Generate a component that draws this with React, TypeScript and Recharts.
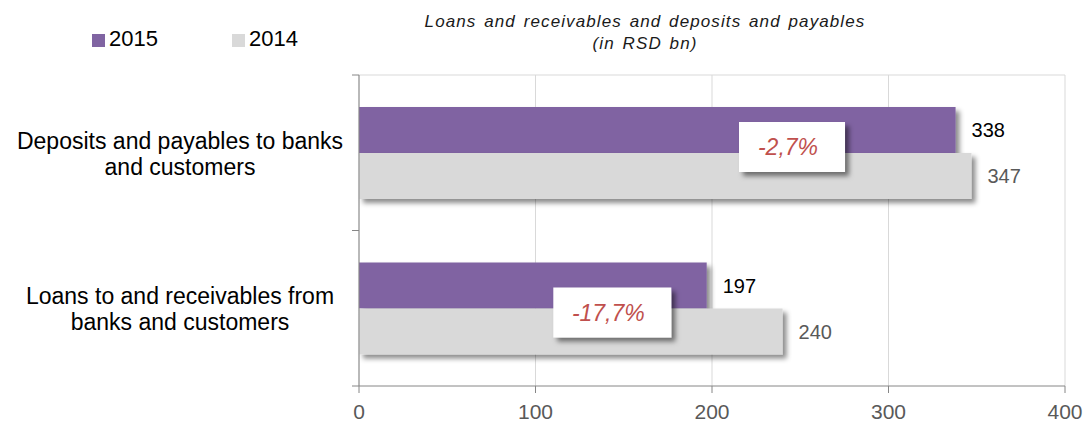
import { BarChart, Bar, XAxis, YAxis, CartesianGrid, LabelList } from "recharts";

const categories = [
  "Deposits and payables to banks and customers",
  "Loans to and receivables from banks and customers",
];
const categoryLines = [
  ["Deposits and payables to banks", "and customers"],
  ["Loans to and receivables from", "banks and customers"],
];
const values2015 = [338, 197];
const values2014 = [347, 240];
const changeLabels = ["-2,7%", "-17,7%"];
const xTicks = [0, 100, 200, 300, 400];
const seriesNames = ["2015", "2014"];

const data = categories.map((name, i) => ({
  name,
  lines: categoryLines[i],
  y2015: values2015[i],
  y2014: values2014[i],
  change: changeLabels[i],
}));

const FONT = '"Liberation Sans", Arial, sans-serif';
const PURPLE = "#8064a2";
const GREY = "#d9d9d9";
const AXIS = "#868686";
const W = 1088;
const H = 425;
const MARGIN = { top: 75, right: 23, bottom: 0, left: 0 };
const Y_AXIS_W = 359;
const X_AXIS_H = 39;
const BAND = (H - MARGIN.top - MARGIN.bottom - X_AXIS_H) / categories.length;
// where the change boxes sit along the 2014 bar, and how far from the bar split
const CALLOUT_X = [0.707, 0.598];
const CALLOUT_DY = [-6, 4];

function CategoryTick(props: any) {
  const { y, payload, index } = props;
  const lines: string[] = data[index]?.lines ?? [payload.value];
  const top = y - BAND / 2;
  const last = index === data.length - 1;
  const ax = MARGIN.left + Y_AXIS_W;
  return (
    <g>
      <line x1={ax - 7} x2={ax} y1={top} y2={top} stroke={AXIS} />
      {last && <line x1={ax - 7} x2={ax} y1={top + BAND} y2={top + BAND} stroke={AXIS} />}
      {lines.map((l, i) => (
        <text
          key={i}
          x={180}
          y={y - 4 + i * 26}
          textAnchor="middle"
          fontFamily={FONT}
          fontSize={23}
          fill="#000"
        >
          {l}
        </text>
      ))}
    </g>
  );
}

function ShadowRect(props: any) {
  const { x, y, width, height, fill } = props;
  return <rect x={x} y={y} width={width} height={height} fill={fill} filter="url(#barShadow)" />;
}

function Callout(props: any) {
  const { x, y, width, value, index } = props;
  const text = String(value);
  const cx = x + width * CALLOUT_X[index];
  const cy = y + CALLOUT_DY[index];
  const bw = text.length * 12 + 46;
  const bh = 50;
  return (
    <g>
      <rect
        x={cx - bw / 2}
        y={cy - bh / 2}
        width={bw}
        height={bh}
        fill="#fff"
        filter="url(#boxShadow)"
      />
      <text
        x={cx - 4}
        y={cy + 8}
        textAnchor="middle"
        fontFamily={FONT}
        fontStyle="italic"
        fontSize={23}
        fill="#c0504d"
      >
        {text}
      </text>
    </g>
  );
}

function LegendBlock() {
  const colors = [PURPLE, GREY];
  return (
    <div
      style={{
        position: "absolute",
        left: 92,
        top: 26,
        display: "flex",
        fontFamily: FONT,
        fontSize: 22,
        lineHeight: "26px",
        color: "#000",
      }}
    >
      {seriesNames.map((s, i) => (
        <div key={s} style={{ display: "flex", alignItems: "center", width: 140 }}>
          <span
            style={{ width: 13, height: 13, background: colors[i], marginRight: 4, marginTop: 2 }}
          />
          <span>{s}</span>
        </div>
      ))}
    </div>
  );
}

export default function App() {
  return (
    <div style={{ position: "relative", width: W, height: H, background: "#fff" }}>
      <style>{"body{margin:0}"}</style>
      <svg width={0} height={0} style={{ position: "absolute" }}>
        <defs>
          <filter id="barShadow" x="-5%" y="-20%" width="115%" height="160%">
            <feDropShadow dx={4} dy={4} stdDeviation={2.5} floodColor="#000" floodOpacity={0.45} />
          </filter>
          <filter id="boxShadow" x="-20%" y="-30%" width="150%" height="170%">
            <feDropShadow dx={4} dy={4} stdDeviation={2.5} floodColor="#000" floodOpacity={0.5} />
          </filter>
        </defs>
      </svg>
      <LegendBlock />
      <div
        style={{
          position: "absolute",
          left: 0,
          width: 1290,
          top: 11,
          textAlign: "center",
          fontFamily: FONT,
          fontStyle: "italic",
          fontSize: 17,
          lineHeight: "22px",
          color: "#1a1a1a",
          letterSpacing: 1.1,
          wordSpacing: 2,
        }}
      >
        Loans and receivables and deposits and payables
        <br />
        (in RSD bn)
      </div>
      <BarChart
        width={W}
        height={H}
        data={data}
        layout="vertical"
        margin={MARGIN}
        barCategoryGap={32}
        barGap={0}
      >
        <CartesianGrid
          stroke={GREY}
          horizontalCoordinatesGenerator={({ offset }: any) => [offset.top]}
        />
        <XAxis
          type="number"
          domain={[0, 400]}
          ticks={xTicks}
          height={X_AXIS_H}
          axisLine={{ stroke: AXIS }}
          tickLine={{ stroke: AXIS }}
          tickSize={7}
          tickMargin={11}
          tick={{ fill: "#595959", fontSize: 21, fontFamily: FONT }}
        />
        <YAxis
          type="category"
          dataKey="name"
          width={Y_AXIS_W}
          axisLine={{ stroke: AXIS }}
          tickLine={false}
          tick={<CategoryTick />}
        />
        <Bar dataKey="y2015" name="2015" fill={PURPLE} shape={<ShadowRect />} isAnimationActive={false}>
          <LabelList
            dataKey="y2015"
            position="right"
            offset={16}
            fill="#000"
            fontSize={20}
            fontFamily={FONT}
          />
        </Bar>
        <Bar dataKey="y2014" name="2014" fill={GREY} shape={<ShadowRect />} isAnimationActive={false}>
          <LabelList
            dataKey="y2014"
            position="right"
            offset={16}
            fill="#595959"
            fontSize={20}
            fontFamily={FONT}
          />
          <LabelList dataKey="change" content={<Callout />} />
        </Bar>
      </BarChart>
    </div>
  );
}
